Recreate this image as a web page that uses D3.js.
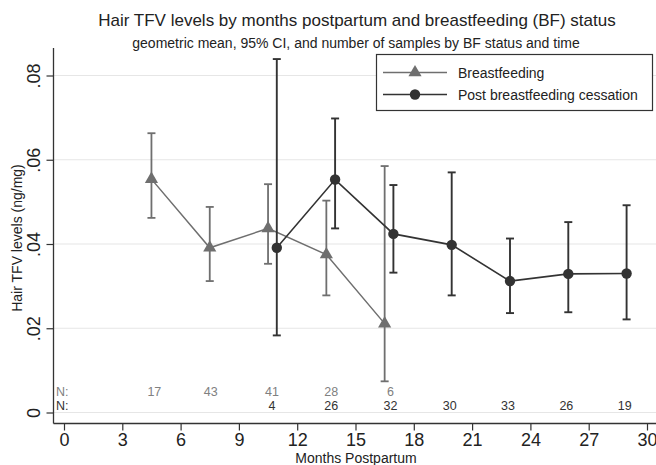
<!DOCTYPE html>
<html><head><meta charset="utf-8">
<script src="https://cdn.jsdelivr.net/npm/d3@7"></script>
<style>body{margin:0;background:#fff}svg{display:block}text{font-family:"Liberation Sans",Arial,sans-serif}</style>
</head><body><svg id="c" width="656" height="465"></svg>
<script>
const bfMonths   = [4.5, 7.5, 10.5, 13.5, 16.5];
const bfMean     = [0.0554, 0.0391, 0.0437, 0.0375, 0.0211];
const bfLo       = [0.0462, 0.0312, 0.0353, 0.0278, 0.0074];
const bfHi       = [0.0663, 0.0488, 0.0542, 0.0503, 0.0585];
const postMonths = [10.95, 13.95, 16.95, 19.95, 22.95, 25.95, 28.95];
const postMean   = [0.0391, 0.0553, 0.0424, 0.0398, 0.0312, 0.0329, 0.0330];
const postLo     = [0.0183, 0.0437, 0.0332, 0.0278, 0.0236, 0.0238, 0.0221];
const postHi     = [0.0839, 0.0698, 0.0540, 0.0570, 0.0413, 0.0452, 0.0492];
const nMonths    = [4.65, 7.55, 10.7, 13.75, 16.8, 19.85, 22.85, 25.85, 28.85];
const nBF        = ["17", "43", "41", "28", "6", "", "", "", ""];
const nPost      = ["", "", "4", "26", "32", "30", "33", "26", "19"];
const xTicks     = [0, 3, 6, 9, 12, 15, 18, 21, 24, 27, 30];
const yTicks     = [0, 0.02, 0.04, 0.06, 0.08];
const yTickLabels = ["0", ".02", ".04", ".06", ".08"];

const svg = d3.select("#c");
const x = d3.scaleLinear().domain([0, 30]).range([64, 647]);
const y = d3.scaleLinear().domain([0, 0.08]).range([412.5, 75.5]);
const axisLeft = 53.5, axisBottom = 423.5, plotTop = 48;
const cBF = "#6f6f6f", cPost = "#333333";

// gridlines
svg.append("g").selectAll("line").data(yTicks).join("line")
  .attr("x1", axisLeft).attr("x2", 656)
  .attr("y1", d => y(d)).attr("y2", d => y(d))
  .attr("stroke", "#e6e6e6").attr("stroke-width", 1.2);

// y axis
const ya = svg.append("g").attr("transform", `translate(${axisLeft},0)`)
  .call(d3.axisLeft(y).tickValues(yTicks).tickFormat((d,i) => yTickLabels[i]).tickSize(7).tickSizeOuter(0));
ya.select(".domain").remove();
ya.append("line").attr("x1",0).attr("x2",0).attr("y1",plotTop).attr("y2",axisBottom).attr("stroke","#333").attr("stroke-width",1.3);
ya.selectAll(".tick line").attr("stroke","#333").attr("stroke-width",1.2);
ya.selectAll(".tick text").attr("font-size", 18).attr("fill","#222")
  .attr("transform", "rotate(-90)").attr("x", 0).attr("y", -14).attr("dy", "0")
  .attr("text-anchor", "middle");

// x axis
const xa = svg.append("g").attr("transform", `translate(0,${axisBottom})`)
  .call(d3.axisBottom(x).tickValues(xTicks).tickSize(7).tickSizeOuter(0));
xa.select(".domain").remove();
xa.append("line").attr("x1",axisLeft).attr("x2",656).attr("y1",0).attr("y2",0).attr("stroke","#333").attr("stroke-width",1.3);
xa.selectAll(".tick line").attr("stroke","#333").attr("stroke-width",1.2);
xa.selectAll(".tick text").attr("font-size", 18).attr("fill","#222").attr("y", 10);

// axis titles
svg.append("text").attr("x", 356).attr("y", 463).attr("text-anchor","middle").attr("font-size",14).attr("fill","#222").text("Months Postpartum");
svg.append("text").attr("transform","translate(22,238) rotate(-90)").attr("text-anchor","middle").attr("font-size",14).attr("fill","#222").text("Hair TFV levels (ng/mg)");

// titles
svg.append("text").attr("x", 357).attr("y", 26).attr("text-anchor","middle").attr("font-size",17).attr("fill","#222")
  .text("Hair TFV levels by months postpartum and breastfeeding (BF) status");
svg.append("text").attr("x", 356).attr("y", 48).attr("text-anchor","middle").attr("font-size",14).attr("fill","#222")
  .text("geometric mean, 95% CI, and number of samples by BF status and time");

// series
function drawSeries(months, mean, lo, hi, color, lw, marker) {
  const g = svg.append("g");
  const data = months.map((m,i) => ({m, v: mean[i], lo: lo[i], hi: hi[i]}));
  g.append("path").datum(data)
    .attr("d", d3.line().x(d => x(d.m)).y(d => y(d.v)))
    .attr("fill","none").attr("stroke", color).attr("stroke-width", lw);
  const eb = g.selectAll("g.eb").data(data).join("g");
  eb.append("line").attr("x1", d => x(d.m)).attr("x2", d => x(d.m)).attr("y1", d => y(d.lo)).attr("y2", d => y(d.hi))
    .attr("stroke", color).attr("stroke-width", lw+0.3);
  [ "lo", "hi" ].forEach(k => eb.append("line").attr("x1", d => x(d.m)-4).attr("x2", d => x(d.m)+4)
    .attr("y1", d => y(d[k])).attr("y2", d => y(d[k])).attr("stroke", color).attr("stroke-width", lw+0.3));
  g.selectAll("path.mk").data(data).join("path").attr("class","mk")
    .attr("transform", d => `translate(${x(d.m)},${y(d.v)})`)
    .attr("d", d3.symbol().type(marker).size(marker === d3.symbolCircle ? 85 : 75))
    .attr("fill", color);
}
drawSeries(bfMonths, bfMean, bfLo, bfHi, cBF, 1.5, d3.symbolTriangle);
drawSeries(postMonths, postMean, postLo, postHi, cPost, 1.6, d3.symbolCircle);

// N rows
const nFont = 12.5, yRow1 = 396, yRow2 = 409.5;
svg.append("text").attr("x",56).attr("y",yRow1).attr("font-size",nFont).attr("fill","#808080").text("N:");
svg.append("text").attr("x",56).attr("y",yRow2).attr("font-size",nFont).attr("fill","#333").text("N:");
svg.append("g").selectAll("text").data(nBF).join("text")
  .attr("x", (d,i) => x(nMonths[i])).attr("y", yRow1).attr("text-anchor","middle")
  .attr("font-size",nFont).attr("fill","#808080").text(d => d);
svg.append("g").selectAll("text").data(nPost).join("text")
  .attr("x", (d,i) => x(nMonths[i])).attr("y", yRow2).attr("text-anchor","middle")
  .attr("font-size",nFont).attr("fill","#333").text(d => d);

// legend
const lg = svg.append("g");
lg.append("rect").attr("x",376.5).attr("y",54.5).attr("width",276).attr("height",56)
  .attr("fill","#fff").attr("stroke","#333").attr("stroke-width",1.2);
const legItems = [
  {label:"Breastfeeding", color:cBF, marker:d3.symbolTriangle, yy:72.5},
  {label:"Post breastfeeding cessation", color:cPost, marker:d3.symbolCircle, yy:94.5}
];
legItems.forEach(it => {
  lg.append("line").attr("x1",383).attr("x2",447).attr("y1",it.yy).attr("y2",it.yy).attr("stroke",it.color).attr("stroke-width",1.5);
  lg.append("path").attr("transform",`translate(415,${it.yy})`)
    .attr("d", d3.symbol().type(it.marker).size(it.marker===d3.symbolCircle?85:75)).attr("fill",it.color);
  lg.append("text").attr("x",458).attr("y",it.yy+5).attr("font-size",14).attr("fill","#222").text(it.label);
});
</script></body></html>
